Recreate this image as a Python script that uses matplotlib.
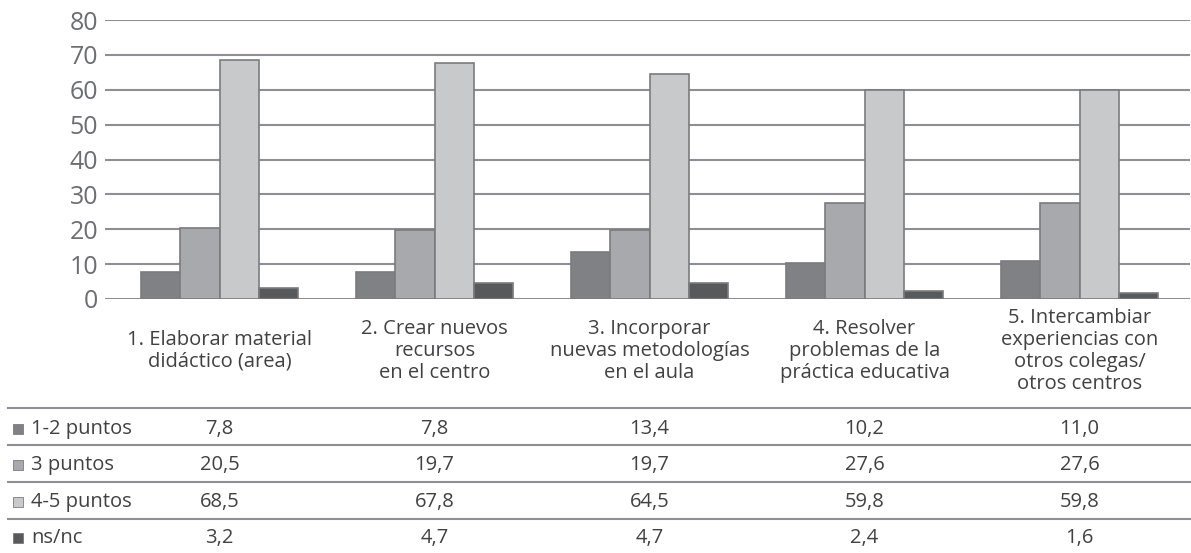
import numpy as np
import matplotlib
matplotlib.use('Agg')
import matplotlib.pyplot as plt
from matplotlib.transforms import blended_transform_factory
from matplotlib.patches import Rectangle
from matplotlib.lines import Line2D

plt.rcParams['font.family'] = ['Open Sans', 'DejaVu Sans']

# Data
categories = [
    "1. Elaborar material\ndidáctico (area)",
    "2. Crear nuevos\nrecursos\nen el centro",
    "3. Incorporar\nnuevas metodologías\nen el aula",
    "4. Resolver\nproblemas de la\npráctica educativa",
    "5. Intercambiar\nexperiencias con\notros colegas/\notros centros",
]
series_names = ["1-2 puntos", "3 puntos", "4-5 puntos", "ns/nc"]
puntos_1_2 = [7.8, 7.8, 13.4, 10.2, 11.0]
puntos_3 = [20.5, 19.7, 19.7, 27.6, 27.6]
puntos_4_5 = [68.5, 67.8, 64.5, 59.8, 59.8]
ns_nc = [3.2, 4.7, 4.7, 2.4, 1.6]
y_ticks = [0, 10, 20, 30, 40, 50, 60, 70, 80]

series = [puntos_1_2, puntos_3, puntos_4_5, ns_nc]
colors = ['#808184', '#a7a9ac', '#c8c9cb', '#58595b']
edge = '#7a7b7e'
grid_c = '#8e8f92'
tick_c = '#6d6e71'
text_c = '#414143'

W, H = 1191, 553
fig = plt.figure(figsize=(W / 100, H / 100), dpi=100)

# axes area in pixels: x 105..1190, y 20..299
ax = fig.add_axes([105 / W, 1 - 299 / H, (1190 - 105) / W, (299 - 20) / H])

x = np.arange(len(categories))
bw = 0.183
for i, (vals, c) in enumerate(zip(series, colors)):
    ax.bar(x + (i - 1.5) * bw, vals, width=bw, color=c, edgecolor=edge,
           linewidth=1.2, zorder=3)

ax.set_xlim(-0.533, 4.514)
ax.set_ylim(0, 80)
ax.set_yticks(y_ticks)
ax.yaxis.grid(True, color=grid_c, linewidth=1.5, zorder=0)
ax.set_axisbelow(True)
ax.tick_params(axis='y', length=0, pad=5, labelsize=18, labelcolor=tick_c)
ax.set_xticks([])
for s in ax.spines.values():
    s.set_visible(False)

fs = 14.5

# category labels below the axis
tr = blended_transform_factory(ax.transData, fig.transFigure)
for xi, lab in zip(x, categories):
    ax.text(xi, 1 - 351 / H, lab, transform=tr, ha='center', va='center',
            fontsize=fs, color=text_c, linespacing=1.12, clip_on=False)

# data table
line_y = [408, 445, 482, 519]
for ly in line_y:
    fig.add_artist(Line2D([8 / W, 1190 / W], [1 - ly / H, 1 - ly / H],
                          color=grid_c, linewidth=1.5))

row_y = [429, 465, 502, 538]
for ry, name, vals, c in zip(row_y, series_names, series, colors):
    fig.add_artist(Rectangle((13 / W, 1 - (ry + 5) / H), 10 / W, 10 / H,
                             transform=fig.transFigure, facecolor=c,
                             edgecolor=edge, linewidth=0.6))
    fig.text(31 / W, 1 - ry / H, name, ha='left', va='center',
             fontsize=fs, color=text_c)
    for xi, v in zip(x, vals):
        ax.text(xi, 1 - ry / H, f"{v:.1f}".replace('.', ','), transform=tr,
                ha='center', va='center', fontsize=fs, color=text_c,
                clip_on=False)

fig.savefig('out.png', dpi=100)
